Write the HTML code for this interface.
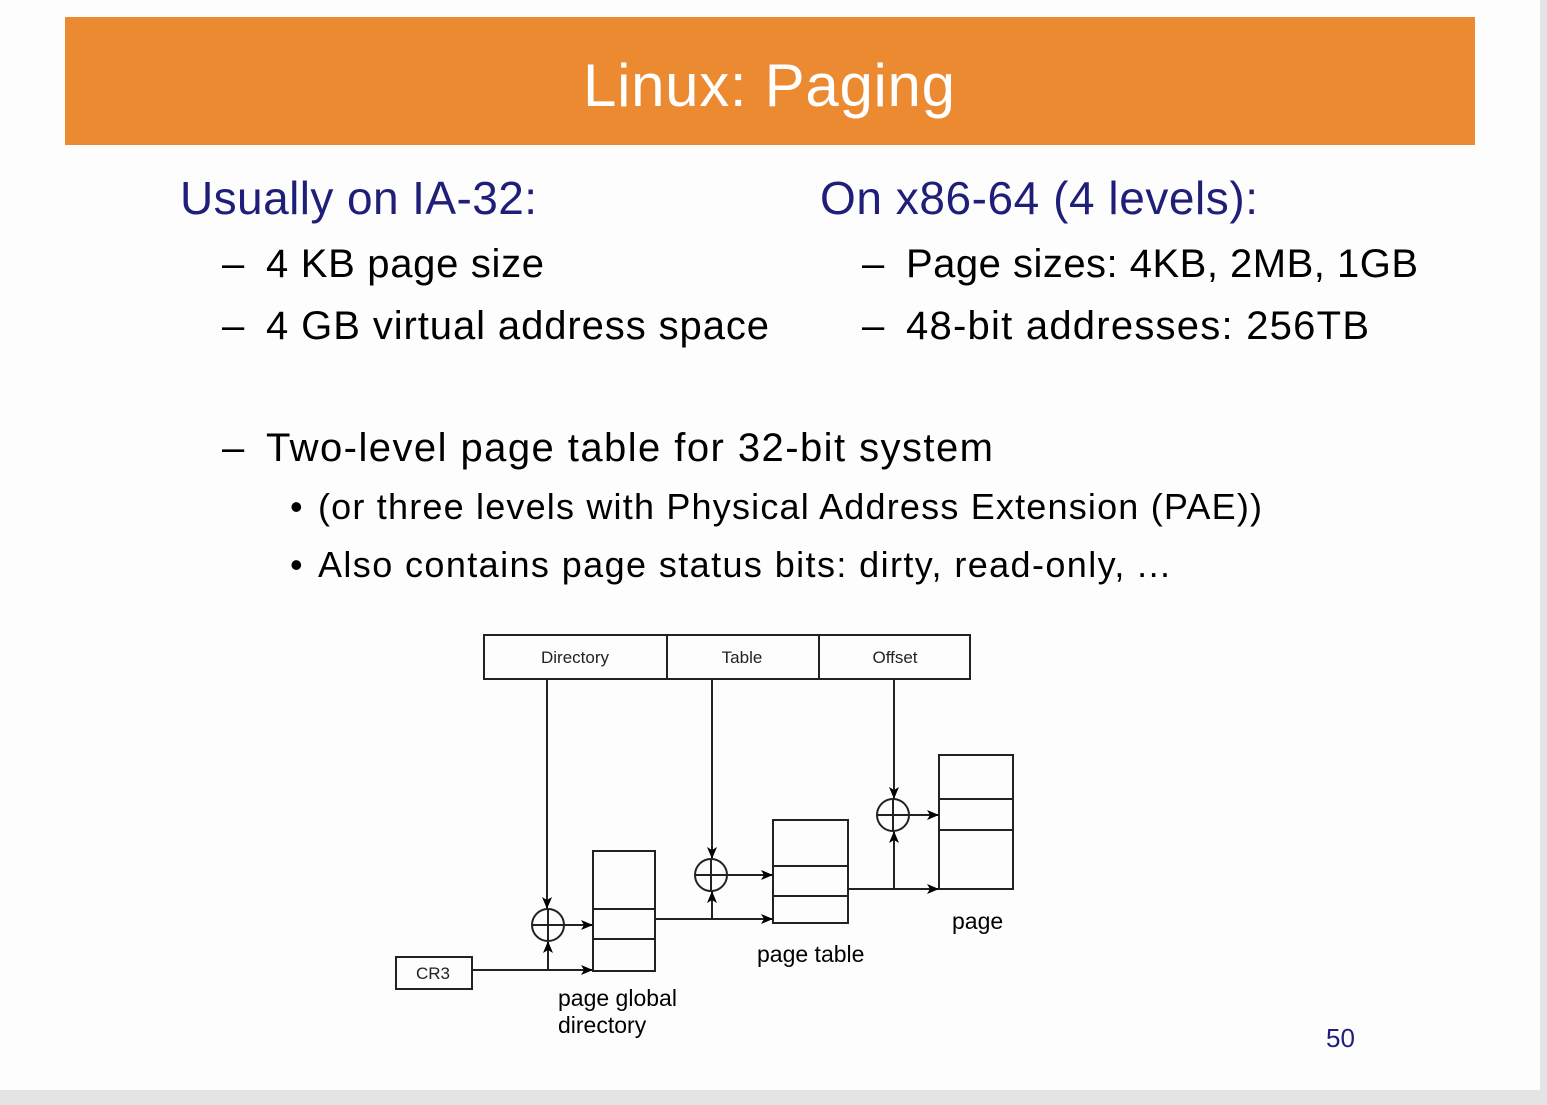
<!DOCTYPE html>
<html><head><style>
html,body{margin:0;padding:0;background:#e6e6e6;}
svg{display:block;}
text{font-family:"Liberation Sans",Arial,sans-serif;}
</style></head><body>
<svg width="1547" height="1105" viewBox="0 0 1547 1105" xmlns="http://www.w3.org/2000/svg">
<rect x="0" y="0" width="1547" height="1105" fill="#e4e4e4"/>
<rect x="0" y="0" width="1540" height="1090" fill="#fdfdfd"/>
<rect x="65" y="17" width="1410" height="128" fill="#ec8a32"/>
<text x="583" y="106" font-size="60" fill="#fff" textLength="372">Linux: Paging</text>

<g fill="#1f1f7a" font-size="46">
<text x="180" y="214" textLength="357">Usually on IA-32:</text>
<text x="820" y="214" textLength="438">On x86-64 (4 levels):</text>
</g>
<g fill="#000" font-size="40">
<text x="222" y="277">–</text><text x="266" y="277" textLength="278">4 KB page size</text>
<text x="222" y="339">–</text><text x="266" y="339" textLength="503">4 GB virtual address space</text>
<text x="862" y="277">–</text><text x="906" y="277" textLength="512">Page sizes: 4KB, 2MB, 1GB</text>
<text x="862" y="339">–</text><text x="906" y="339" textLength="463">48-bit addresses: 256TB</text>
<text x="222" y="461">–</text><text x="266" y="461" textLength="727">Two-level page table for 32-bit system</text>
</g>
<g fill="#000" font-size="36">
<text x="290" y="519">•</text><text x="318" y="519" textLength="944">(or three levels with Physical Address Extension (PAE))</text>
<text x="290" y="577">•</text><text x="318" y="577" textLength="852">Also contains page status bits: dirty, read-only, ...</text>
</g>
<text x="1326" y="1047" font-size="26" fill="#1f1f7a">50</text>

<defs><marker id="a" markerWidth="12" markerHeight="10" refX="11" refY="5" orient="auto" markerUnits="userSpaceOnUse"><path d="M0,0 L12,5 L0,10 L3,5 Z" fill="#000"/></marker></defs>
<g stroke="#222" stroke-width="2" fill="none">
<rect x="484" y="635" width="486" height="44"/>
<line x1="667" y1="635" x2="667" y2="679"/>
<line x1="819" y1="635" x2="819" y2="679"/>
<rect x="396" y="957" width="76" height="32"/>
<rect x="593" y="851" width="62" height="120"/>
<line x1="593" y1="909" x2="655" y2="909"/><line x1="593" y1="939" x2="655" y2="939"/>
<rect x="773" y="820" width="75" height="103"/>
<line x1="773" y1="866" x2="848" y2="866"/><line x1="773" y1="896" x2="848" y2="896"/>
<rect x="939" y="755" width="74" height="134"/>
<line x1="939" y1="799" x2="1013" y2="799"/><line x1="939" y1="830" x2="1013" y2="830"/>
<circle cx="548" cy="925" r="16"/><line x1="532" y1="925" x2="564" y2="925"/><line x1="548" y1="909" x2="548" y2="941"/>
<circle cx="711" cy="875" r="16"/><line x1="695" y1="875" x2="727" y2="875"/><line x1="711" y1="859" x2="711" y2="891"/>
<circle cx="893" cy="815" r="16"/><line x1="877" y1="815" x2="909" y2="815"/><line x1="893" y1="799" x2="893" y2="831"/>
<line x1="547" y1="679" x2="547" y2="908" marker-end="url(#a)"/>
<line x1="712" y1="679" x2="712" y2="858" marker-end="url(#a)"/>
<line x1="894" y1="679" x2="894" y2="798" marker-end="url(#a)"/>
<line x1="472" y1="970" x2="592" y2="970" marker-end="url(#a)"/>
<line x1="548" y1="970" x2="548" y2="942" marker-end="url(#a)"/>
<line x1="564" y1="925" x2="592" y2="925" marker-end="url(#a)"/>
<line x1="655" y1="919" x2="772" y2="919" marker-end="url(#a)"/>
<line x1="712" y1="919" x2="712" y2="892" marker-end="url(#a)"/>
<line x1="727" y1="875" x2="772" y2="875" marker-end="url(#a)"/>
<line x1="848" y1="889" x2="938" y2="889" marker-end="url(#a)"/>
<line x1="894" y1="889" x2="894" y2="832" marker-end="url(#a)"/>
<line x1="909" y1="815" x2="938" y2="815" marker-end="url(#a)"/>
</g>
<g font-size="17" fill="#222" text-anchor="middle">
<text x="575" y="663">Directory</text>
<text x="742" y="663">Table</text>
<text x="895" y="663">Offset</text>
<text x="433" y="979">CR3</text>
</g>
<g font-size="23" fill="#000">
<text x="952" y="929">page</text>
<text x="757" y="962">page table</text>
<text x="558" y="1006">page global</text>
<text x="558" y="1033">directory</text>
</g>
</svg>
</body></html>
